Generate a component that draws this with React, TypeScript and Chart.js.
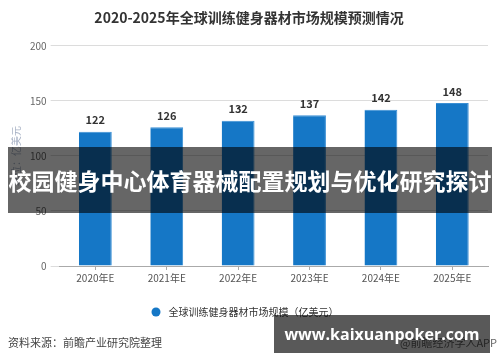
import React, { useEffect, useRef } from "react";
import { Chart, registerables } from "chart.js";

Chart.register(...registerables);

const titleText = "2020-2025年全球训练健身器材市场规模预测情况";
const categories = ["2020年E", "2021年E", "2022年E", "2023年E", "2024年E", "2025年E"];
const marketSize = [122, 126, 132, 137, 142, 148];
const seriesName = "全球训练健身器材市场规模（亿美元）";
const yTitle = "单位：亿美元";
const sourceText = "资料来源：前瞻产业研究院整理";
const brandText = "@前瞻经济学人APP";
const bannerText = "校园健身中心体育器械配置规划与优化研究探讨";
const siteText = "www.kaixuanpoker.com";

const FONT = "'Microsoft YaHei', 'Noto Sans CJK SC', 'Noto Sans', sans-serif";

const valueLabels = {
  id: "valueLabels",
  afterDatasetsDraw(chart: any) {
    const ctx = chart.ctx;
    const meta = chart.getDatasetMeta(0);
    ctx.save();
    ctx.font = `bold 11px ${FONT}`;
    ctx.fillStyle = "#333";
    ctx.textAlign = "center";
    ctx.textBaseline = "bottom";
    meta.data.forEach((el: any, i: number) => {
      ctx.fillText(String(chart.data.datasets[0].data[i]), el.x, el.y - 6);
    });
    ctx.restore();
  },
};

const footerAndLegend = {
  id: "footerAndLegend",
  afterDraw(chart: any) {
    const ctx = chart.ctx;
    const ds = chart.data.datasets[0];
    ctx.save();
    // legend
    ctx.font = `10px ${FONT}`;
    const tw = ctx.measureText(ds.label).width;
    const r = 4.5;
    const gap = 8;
    const total = r * 2 + gap + tw;
    const startX = 245 - total / 2;
    const ly = 312;
    ctx.fillStyle = ds.backgroundColor;
    ctx.beginPath();
    ctx.arc(startX + r, ly, r, 0, Math.PI * 2);
    ctx.fill();
    ctx.fillStyle = "#333";
    ctx.textAlign = "left";
    ctx.textBaseline = "middle";
    ctx.fillText(ds.label, startX + r * 2 + gap, ly);
    // footer
    ctx.font = `11px ${FONT}`;
    ctx.fillStyle = "#444";
    ctx.textAlign = "left";
    ctx.fillText(sourceText, 8, 343);
    ctx.fillStyle = "#666";
    ctx.textAlign = "right";
    ctx.fillText(brandText, 497, 343);
    ctx.restore();
  },
};

export default function App() {
  const ref = useRef<HTMLCanvasElement>(null);
  useEffect(() => {
    const chart = new Chart(ref.current!, {
      type: "bar",
      data: {
        labels: categories,
        datasets: [
          {
            label: seriesName,
            data: marketSize,
            backgroundColor: "#1577c6",
            borderColor: "#3a8fd4",
            borderWidth: { left: 0, right: 1, top: 1, bottom: 0 } as any,
            barPercentage: 0.46,
            categoryPercentage: 1,
          },
        ],
      },
      options: {
        animation: false,
        responsive: false,
        maintainAspectRatio: false,
        layout: { padding: { left: 10, right: 12, top: 0, bottom: 76 } },
        plugins: {
          title: {
            display: true,
            text: titleText,
            color: "#333",
            font: { family: FONT, size: 14, weight: "bold" },
            padding: { top: 9, bottom: 20 },
          },
          legend: { display: false },
          tooltip: { enabled: false },
        },
        scales: {
          x: {
            grid: {
              display: true,
              drawOnChartArea: false,
              drawTicks: true,
              tickLength: 4,
              color: "#aaa",
              offset: false,
            },
            border: { display: true, color: "#aaa" },
            ticks: { color: "#555", font: { family: FONT, size: 10 }, padding: 2 },
          },
          y: {
            min: 0,
            max: 200,
            ticks: {
              stepSize: 50,
              color: "#666",
              font: { family: FONT, size: 10 },
              padding: 4,
            },
            grid: { color: "#dcdcdc", tickLength: 9 },
            border: { display: false },
            title: {
              display: true,
              text: yTitle,
              color: "#a9b3c6",
              font: { family: FONT, size: 10 },
              padding: { top: 0, bottom: 4 },
            },
          },
        },
      },
      plugins: [valueLabels, footerAndLegend],
    });
    return () => chart.destroy();
  }, []);

  return (
    <div style={{ position: "fixed", left: 0, top: 0, width: 500, height: 362, background: "#fff", overflow: "hidden" }}>
      <canvas ref={ref} width={500} height={362} style={{ display: "block" }} />
      <div
        style={{
          position: "absolute",
          left: 8,
          top: 147,
          width: 484,
          height: 66,
          background: "rgba(0,0,0,0.6)",
          color: "#fff",
          fontFamily: FONT,
          fontWeight: "bold",
          fontSize: 23,
          lineHeight: "66px",
          textAlign: "center",
          whiteSpace: "nowrap",
        }}
      >
        {bannerText}
      </div>
      <div
        style={{
          position: "absolute",
          left: 274,
          top: 315,
          width: 216,
          height: 38,
          background: "rgba(0,0,0,0.65)",
          color: "#fff",
          fontFamily: "'Open Sans', 'DejaVu Sans', sans-serif",
          fontWeight: "bold",
          fontSize: 16,
          lineHeight: "38px",
          textAlign: "center",
          whiteSpace: "nowrap",
        }}
      >
        {siteText}
      </div>
    </div>
  );
}
